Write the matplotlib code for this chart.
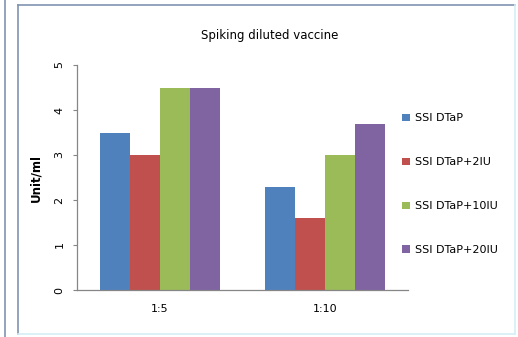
import matplotlib
matplotlib.use("Agg")
import matplotlib.pyplot as plt
from matplotlib.lines import Line2D
import numpy as np

categories = ["1:5", "1:10"]
series_names = ["SSI DTaP", "SSI DTaP+2IU", "SSI DTaP+10IU", "SSI DTaP+20IU"]
series_values = [
    [3.5, 2.3],
    [3.0, 1.6],
    [4.5, 3.0],
    [4.5, 3.7],
]
colors = ["#4F81BD", "#C0504D", "#9BBB59", "#8064A2"]
y_ticks = [0, 1, 2, 3, 4, 5]

W, H = 518, 337
fig = plt.figure(figsize=(W / 100, H / 100), dpi=100)
fig.patch.set_facecolor("white")

# chart frame lines
frame_dark = "#7f93b0"
frame_light = "#d6eef6"
fig.add_artist(Line2D([5 / W, 5 / W], [0, 1], color=frame_dark, lw=1.2))
fig.add_artist(Line2D([18 / W, 18 / W], [3 / H, 1 - 5 / H], color=frame_dark, lw=1.2))
fig.add_artist(Line2D([18 / W, 515 / W], [1 - 5 / H, 1 - 5 / H], color=frame_dark, lw=1.2))
fig.add_artist(Line2D([18 / W, 515 / W], [3 / H, 3 / H], color=frame_light, lw=1.2))
fig.add_artist(Line2D([515 / W, 515 / W], [3 / H, 1 - 5 / H], color=frame_light, lw=1.2))

left, right = 77 / W, 408 / W
bottom, top = (H - 290) / H, (H - 65) / H
ax = fig.add_axes([left, bottom, right - left, top - bottom])

x = np.arange(len(categories))
bw = 0.181
n = len(series_values)
for i, (vals, c, name) in enumerate(zip(series_values, colors, series_names)):
    ax.bar(x + (i - (n - 1) / 2) * bw, vals, width=bw, color=c, label=name, zorder=2)

ax.set_xlim(-0.5, 1.5)
ax.set_ylim(0, 5)
ax.set_yticks(y_ticks)
ax.set_yticklabels([str(t) for t in y_ticks], rotation=90, va="center", fontsize=8)
ax.set_xticks(x)
ax.set_xticklabels(categories, fontsize=8)
ax.tick_params(axis="x", length=0, pad=10)
ax.tick_params(axis="y", length=3, width=0.8, color="#868686", pad=6)

for s in ["top", "right"]:
    ax.spines[s].set_visible(False)
for s in ["left", "bottom"]:
    ax.spines[s].set_color("#868686")
    ax.spines[s].set_linewidth(0.9)

ax.set_ylabel("Unit/ml", fontsize=8.5, fontweight="bold", labelpad=9)
fig.text(270 / W, 1 - 36 / H, "Spiking diluted vaccine", ha="center", va="center", fontsize=8.5)

ax.legend(loc="upper left", bbox_to_anchor=(398 / W, 1 - 109 / H), bbox_transform=fig.transFigure,
          frameon=False, fontsize=8, handlelength=0.65, handleheight=0.65,
          handletextpad=0.5, labelspacing=3.05, borderaxespad=0)

fig.savefig("out.png", dpi=100)
